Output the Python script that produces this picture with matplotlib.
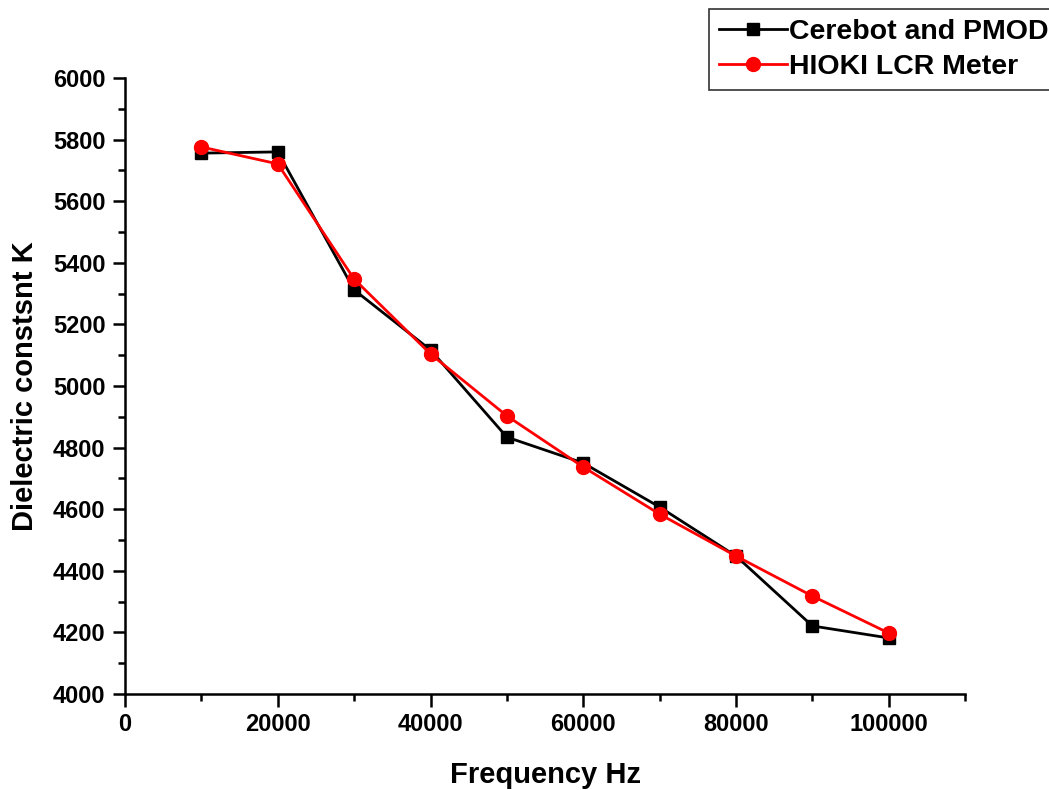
import matplotlib
matplotlib.use('Agg')
import matplotlib.pyplot as plt
from matplotlib.ticker import MultipleLocator

plt.rcParams['font.family'] = ['Liberation Sans', 'DejaVu Sans']
plt.rcParams['font.weight'] = 'bold'

freq = [10000, 20000, 30000, 40000, 50000, 60000, 70000, 80000, 90000, 100000]
cerebot = [5756, 5760, 5312, 5117, 4834, 4750, 4607, 4448, 4221, 4182]
hioki = [5776, 5721, 5347, 5104, 4903, 4737, 4584, 4448, 4318, 4198]

fig = plt.figure(figsize=(10.49, 7.90), dpi=100)
ax = fig.add_axes([0.1192, 0.1215, 0.8008, 0.7798])

ax.plot(freq, cerebot, color='black', marker='s', markersize=8.6, linewidth=2.0,
        label='Cerebot and PMOD')
ax.plot(freq, hioki, color='red', marker='o', markersize=10, linewidth=2.0,
        label='HIOKI LCR Meter')

ax.set_xlim(0, 110000)
ax.set_ylim(4000, 6000)
ax.xaxis.set_major_locator(MultipleLocator(20000))
ax.xaxis.set_minor_locator(MultipleLocator(10000))
ax.yaxis.set_major_locator(MultipleLocator(200))
ax.yaxis.set_minor_locator(MultipleLocator(100))

for s in ['top', 'right']:
    ax.spines[s].set_visible(False)
for s in ['left', 'bottom']:
    ax.spines[s].set_linewidth(1.8)
ax.tick_params(which='major', direction='out', length=9, width=1.8, labelsize=17, pad=5)
ax.tick_params(which='minor', direction='out', length=5, width=1.8)
for lab in ax.get_xticklabels() + ax.get_yticklabels():
    lab.set_fontweight('bold')

ax.set_xlabel('Frequency Hz', fontsize=21, fontweight='bold', labelpad=18)
ax.set_ylabel('Dielectric constsnt K', fontsize=21, fontweight='bold', labelpad=10)

leg = fig.legend(loc='upper left', bbox_to_anchor=(0.676, 0.988), fontsize=20.5,
                 frameon=True, fancybox=False, edgecolor='black',
                 handlelength=2.4, handletextpad=0.05, borderpad=0.35,
                 labelspacing=0.3, borderaxespad=0)
leg.get_frame().set_linewidth(1.2)

fig.savefig('out.png', dpi=100)
